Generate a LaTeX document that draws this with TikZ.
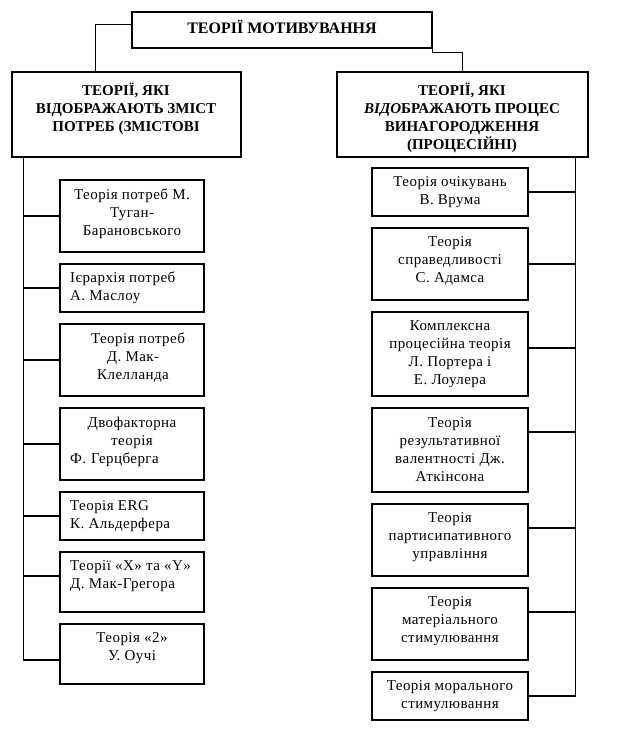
\documentclass[tikz,border=0pt]{standalone}
\usepackage{fontspec}
\setmainfont[LetterSpace=3]{Liberation Serif}
\newfontfamily\hdfont{Liberation Serif}
\begin{document}
\begin{tikzpicture}[x=1pt,y=-1pt,
  box/.style={draw, line width=1.3pt, rectangle, inner sep=0pt},
  txt/.style={inner sep=0pt, align=center, font=\fontsize{15}{18}\selectfont},
  hd/.style={inner sep=0pt, align=center, font=\hdfont\bfseries\fontsize{15}{18}\selectfont},
  ln/.style={line width=1.3pt}]
\useasboundingbox (0,0) rectangle (637,733);
% title and headers
\node[box, minimum width=300pt, minimum height=36pt] (title) at (282,30) {};
\node[hd, font=\hdfont\bfseries\fontsize{16}{18}\selectfont] (titlet) at (282,27) {ТЕОРІЇ МОТИВУВАННЯ};
\node[box, minimum width=229pt, minimum height=85pt] (lhead) at (126.5,114.5) {};
\node[hd] (lheadt) at (126,109) {ТЕОРІЇ, ЯКІ\\ВІДОБРАЖАЮТЬ ЗМІСТ\\ПОТРЕБ (ЗМІСТОВІ};
\node[box, minimum width=251pt, minimum height=85pt] (rhead) at (462.5,114.5) {};
\node[hd] (rheadt) at (462,118) {ТЕОРІЇ, ЯКІ\\{\itshape ВІДО}БРАЖАЮТЬ ПРОЦЕС\\ВИНАГОРОДЖЕННЯ\\(ПРОЦЕСІЙНІ)};
% left children
\node[box, minimum width=144pt, minimum height=72pt] (l1) at (132,216) {};
\node[txt] (l1t) at (132,214) {Теорія потреб М.\\Туган-\\Барановського};
\node[box, minimum width=144pt, minimum height=48pt] (l2) at (132,288) {};
\node[txt, align=left, anchor=west] (l2t) at (70,288) {Ієрархія потреб\\А. Маслоу};
\node[box, minimum width=144pt, minimum height=72pt] (l3) at (132,360) {};
\node[txt] (l3t) at (133,358) {\hspace*{10pt}Теорія потреб\\Д. Мак-\\Клелланда};
\node[box, minimum width=144pt, minimum height=72pt] (l4) at (132,444) {};
\node[txt, text width=124pt] (l4t) at (132,442) {Двофакторна\\теорія\\\makebox[124pt][l]{Ф. Герцберга}};
\node[box, minimum width=144pt, minimum height=48pt] (l5) at (132,516) {};
\node[txt, align=left, anchor=west] (l5t) at (70,516) {Теорія ERG\\К. Альдерфера};
\node[box, minimum width=144pt, minimum height=60pt] (l6) at (132,582) {};
\node[txt, align=left, anchor=west] (l6t) at (70,576) {Теорії «X» та «Y»\\Д. Мак-Грегора};
\node[box, minimum width=144pt, minimum height=60pt] (l7) at (132,654) {};
\node[txt] (l7t) at (132,648) {Теорія «2»\\У. Оучі};
% right children
\node[box, minimum width=156pt, minimum height=48pt] (r1) at (450,192) {};
\node[txt] (r1t) at (450,192) {Теорія очікувань\\В. Врума};
\node[box, minimum width=156pt, minimum height=72pt] (r2) at (450,264) {};
\node[txt] (r2t) at (450,261) {Теорія\\справедливості\\С. Адамса};
\node[box, minimum width=156pt, minimum height=84pt] (r3) at (450,354) {};
\node[txt] (r3t) at (450,354) {Комплексна\\процесійна теорія\\Л. Портера і\\Е. Лоулера};
\node[box, minimum width=156pt, minimum height=84pt] (r4) at (450,450) {};
\node[txt] (r4t) at (450,450) {Теорія\\результативної\\валентності Дж.\\Аткінсона};
\node[box, minimum width=156pt, minimum height=72pt] (r5) at (450,540) {};
\node[txt] (r5t) at (450,537) {Теорія\\партисипативного\\управління};
\node[box, minimum width=156pt, minimum height=72pt] (r6) at (450,624) {};
\node[txt] (r6t) at (450,621) {Теорія\\матеріального\\стимулювання};
\node[box, minimum width=156pt, minimum height=48pt] (r7) at (450,696) {};
\node[txt] (r7t) at (450,696) {Теорія морального\\стимулювання};
% connectors top
\draw[ln] ([yshift=-13pt]title.north west) -| ([xshift=84pt]lhead.north west);
\draw[ln] (title.south east) -- ([yshift=-4pt]title.south east) -| ([xshift=126pt]rhead.north west);
% left spine
\coordinate (ls) at ([xshift=12pt]lhead.south west);
\draw[ln] (ls) |- ([yshift=-6pt]l7.west);
\draw[ln] (l1.west) -- (l1.west -| ls);
\draw[ln] (l2.west) -- (l2.west -| ls);
\draw[ln] (l3.west) -- (l3.west -| ls);
\draw[ln] (l4.west) -- (l4.west -| ls);
\draw[ln] (l5.west) -- (l5.west -| ls);
\draw[ln] ([yshift=6pt]l6.west) -- ([yshift=6pt]l6.west -| ls);
% right spine
\coordinate (rs) at ([xshift=239pt]rhead.south west);
\draw[ln] (rs) |- (r7.east);
\draw[ln] (r1.east) -- (r1.east -| rs);
\draw[ln] (r2.east) -- (r2.east -| rs);
\draw[ln] ([yshift=6pt]r3.east) -- ([yshift=6pt]r3.east -| rs);
\draw[ln] ([yshift=18pt]r4.east) -- ([yshift=18pt]r4.east -| rs);
\draw[ln] ([yshift=12pt]r5.east) -- ([yshift=12pt]r5.east -| rs);
\draw[ln] ([yshift=12pt]r6.east) -- ([yshift=12pt]r6.east -| rs);
\end{tikzpicture}
\end{document}
